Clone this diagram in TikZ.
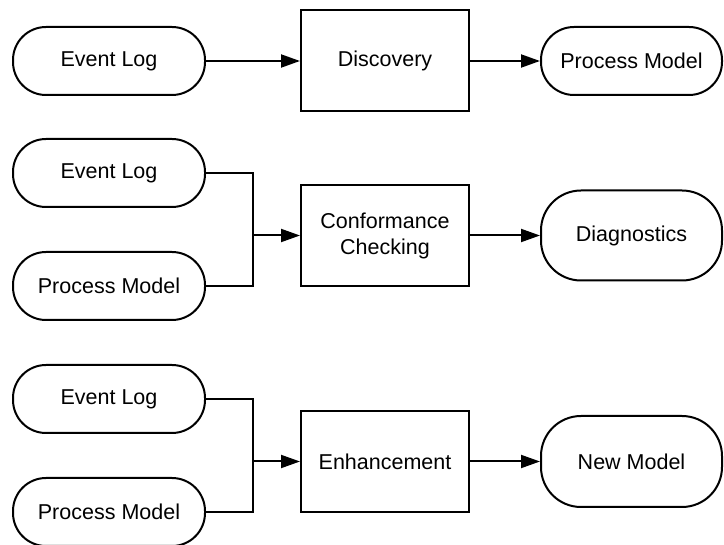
\documentclass[tikz,border=0pt]{standalone}
\usepackage{fontspec}
\setmainfont{Liberation Sans}
\usetikzlibrary{arrows.meta,positioning}

\begin{document}
\begin{tikzpicture}[x=1pt, y=-1pt, line width=2pt,
    every node/.style={font=\fontsize{21.5}{26}\selectfont, align=center, inner sep=0pt},
    pill/.style={draw, rounded corners=33pt, minimum height=68pt},
    inpill/.style={pill, minimum width=192pt},
    outpill/.style={pill, minimum width=181pt},
    task/.style={draw, minimum width=168pt, minimum height=101pt},
    arr/.style={-{Triangle[length=19pt,width=13pt]}}]
    \useasboundingbox (0,0) rectangle (724,545);

    % Discovery
    \node[inpill] (el1) at (109,61) {Event Log};
    \node[task] (disc) at (385,61) {Discovery};
    \node[outpill] (pm1) at (631.5,61) {Process Model};
    \draw[arr] (el1) -- (disc);
    \draw[arr] (disc) -- (pm1);

    % Conformance checking
    \node[inpill] (el2) at (109,173) {Event Log};
    \node[inpill] (pm2) at (109,286) {Process Model};
    \node[task] (conf) at (385,235.5) {Conformance\\Checking};
    \node[outpill, minimum height=90pt, rounded corners=40pt] (diag) at (631.5,235.5) {Diagnostics};
    \coordinate (j2) at (253,235.5);
    \draw (el2.east) -| (j2);
    \draw (pm2.east) -| (j2);
    \draw[arr] (j2) -- (conf);
    \draw[arr] (conf) -- (diag);

    % Enhancement
    \node[inpill] (el3) at (109,399) {Event Log};
    \node[inpill] (pm3) at (109,512) {Process Model};
    \node[task] (enh) at (385,461.5) {Enhancement};
    \node[outpill, minimum height=91pt, rounded corners=40pt] (newm) at (631.5,461.5) {New Model};
    \coordinate (j3) at (253,461.5);
    \draw (el3.east) -| (j3);
    \draw (pm3.east) -| (j3);
    \draw[arr] (j3) -- (enh);
    \draw[arr] (enh) -- (newm);
\end{tikzpicture}
\end{document}
